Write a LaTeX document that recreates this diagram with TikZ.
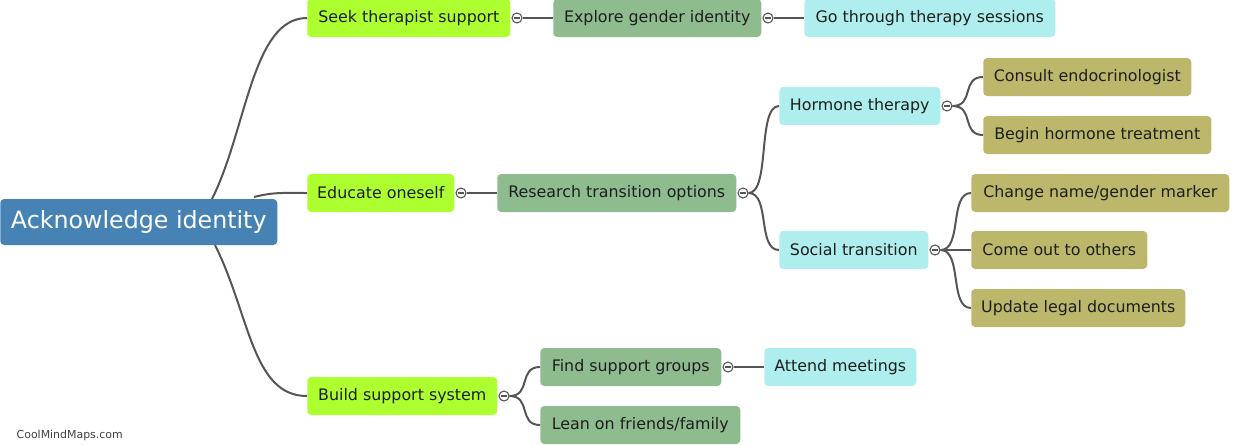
\documentclass[tikz,border=0pt]{standalone}
\usepackage{fontspec}
\setmainfont{DejaVu Sans}
\definecolor{cRoot}{HTML}{4682B4}
\definecolor{cLime}{HTML}{ADFF2F}
\definecolor{cSage}{HTML}{8FBC8F}
\definecolor{cAqua}{HTML}{AFEEEE}
\definecolor{cKhaki}{HTML}{BDB76B}
\definecolor{cLine}{HTML}{555555}
\definecolor{cInk}{HTML}{1E1E1E}

\begin{document}
\begin{tikzpicture}[x=0.75pt, y=-0.75pt, font=\fontsize{11.9}{14}\selectfont, text=cInk,
  box/.style={fill=#1, rounded corners=3pt, anchor=west, minimum height=28.5pt, inner sep=0pt},
  knob/.style={circle, draw=cLine, fill=white, line width=0.8pt, minimum size=7.5pt, inner sep=0pt,
    path picture={\draw[cLine, line width=0.8pt] ([xshift=-2pt]path picture bounding box.center) -- ([xshift=2pt]path picture bounding box.center);}},
  link/.style={cLine, line width=1.5pt}]
  \useasboundingbox (0,0) rectangle (1242,444);
  \node[box=cRoot, minimum width=207.75pt, minimum height=34.5pt, text=white, font=\fontsize{17.8}{21}\selectfont] (root) at (0,222) {Acknowledge identity};
  \foreach \n/\x/\y/\w/\c/\t in {seek/307/18/203/cLime/Seek therapist support, explore/553/18/208/cSage/Explore gender identity,
      therapy/804/18/251/cAqua/Go through therapy sessions, educate/307/193/147/cLime/Educate oneself,
      research/497/193/239/cSage/Research transition options, hormone/779/106/161/cAqua/Hormone therapy,
      endo/983/77/208/cKhaki/Consult endocrinologist, treat/983/135/228/cKhaki/Begin hormone treatment,
      social/779/250/149/cAqua/Social transition, rename/971/193/258/cKhaki/{Change name/gender marker},
      comeout/971/250/176/cKhaki/Come out to others, legal/971/308/214/cKhaki/Update legal documents,
      build/307/396/190/cLime/Build support system, groups/540/367/181/cSage/Find support groups,
      meet/764/367/152/cAqua/Attend meetings, lean/540/425/200/cSage/{Lean on friends/family}}
    \node[box=\c, minimum width={\w*0.75pt}] (\n) at (\x,\y) {\t};
  % collapse knobs
  \foreach \n/\x/\y in {seek/517/18, explore/768/18, educate/461/193, research/743/193,
      hormone/947/106, social/935/250, build/504/396, groups/728/367}
    \node[knob] (k-\n) at (\x,\y) {};
  % root branches
  \coordinate (rtA) at (212,199);
  \coordinate (rtB) at (254,197);
  \coordinate (rtC) at (215,245);
  \draw[link] (rtA) .. controls +(35,-70) and +(-55,0) .. (seek.west);
  \draw[link] (rtB) .. controls +(20,-5) and +(-25,0) .. (educate.west);
  \draw[link] (rtC) .. controls +(35,70) and +(-55,0) .. (build.west);
  % straight links
  \foreach \a/\b in {seek/explore, explore/therapy, educate/research, groups/meet, social/comeout}
    \draw[link] (k-\a.east) -- (\b.west);
  % curved links
  \foreach \a/\b in {research/hormone, research/social, hormone/endo, hormone/treat,
      social/rename, social/legal, build/groups, build/lean}
    \draw[link] (k-\a.east) .. controls +(22,0) and +(-22,0) .. (\b.west);
  \node[anchor=west, font=\fontsize{8.2}{10}\selectfont, text=cInk!85] (mark) at (12,435) {CoolMindMaps.com};
\end{tikzpicture}
\end{document}
